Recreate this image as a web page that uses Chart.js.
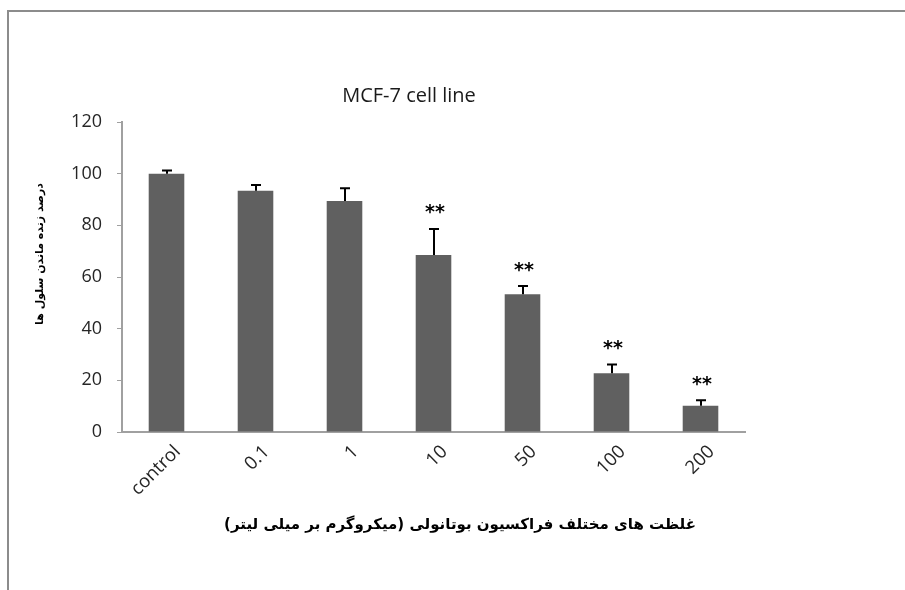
<!DOCTYPE html>
<html><head><meta charset="utf-8">
<script src="https://cdn.jsdelivr.net/npm/chart.js@4/dist/chart.umd.min.js"></script>
<style>
html,body{margin:0;padding:0;background:#fff;}
#wrap{position:relative;width:905px;height:590px;overflow:hidden;}
#frame{position:absolute;left:7px;top:10px;width:1000px;height:1000px;border-left:2px solid #8c8c8c;border-top:2px solid #8c8c8c;}
canvas{position:absolute;left:0;top:0;}
</style></head><body>
<div id="wrap"><div id="frame"></div><canvas id="c" width="905" height="590"></canvas></div>
<script>
const categories = ['control', '0.1', '1', '10', '50', '100', '200'];
const viability = [100, 93.4, 89.4, 68.5, 53.3, 22.7, 10.2];
const errorUp = [1.2, 2.2, 5.0, 10.1, 3.2, 3.4, 2.1];
const significance = ['', '', '', '**', '**', '**', '**'];
const yTicks = [0, 20, 40, 60, 80, 100, 120];
const chartTitle = 'MCF-7 cell line';
const xTitle = 'غلظت های مختلف فراکسیون بوتانولی (میکروگرم بر میلی لیتر)';
const yTitle = 'درصد زنده ماندن سلول ها';

const overlay = {
  id: 'overlay',
  afterDatasetsDraw(chart) {
    const ctx = chart.ctx;
    const meta = chart.getDatasetMeta(0);
    const ys = chart.scales.y;
    ctx.save();
    ctx.strokeStyle = '#000';
    ctx.lineWidth = 2;
    meta.data.forEach((bar, i) => {
      const x = Math.round(bar.x);
      const yTop = ys.getPixelForValue(viability[i]);
      const yErr = ys.getPixelForValue(viability[i] + errorUp[i]);
      ctx.beginPath();
      ctx.moveTo(x, yTop);
      ctx.lineTo(x, yErr);
      ctx.moveTo(x - 5, yErr);
      ctx.lineTo(x + 5, yErr);
      ctx.stroke();
      if (significance[i]) {
        ctx.font = 'bold 19px "DejaVu Sans"';
        ctx.fillStyle = '#000';
        ctx.textAlign = 'center';
        ctx.textBaseline = 'alphabetic';
        const m = ctx.measureText(significance[i]);
        const target = yErr - 19.5;
        const base = target + (m.actualBoundingBoxAscent - m.actualBoundingBoxDescent) / 2;
        ctx.fillText(significance[i], x + 1, base);
      }
    });
    ctx.restore();
  },
  afterDraw(chart) {
    const ctx = chart.ctx;
    ctx.save();
    ctx.fillStyle = '#1a1a1a';
    ctx.textAlign = 'center';
    ctx.textBaseline = 'alphabetic';
    ctx.font = '20px "Open Sans"';
    ctx.fillText(chartTitle, 409, 102);

    ctx.fillStyle = '#000';
    ctx.direction = 'rtl';
    ctx.font = 'bold 15px "DejaVu Sans"';
    ctx.textBaseline = 'middle';
    ctx.fillText(xTitle, 460, 525);

    ctx.translate(40, 254);
    ctx.rotate(-Math.PI / 2);
    ctx.font = 'bold 11px "DejaVu Sans"';
    ctx.fillText(yTitle, 0, 0);
    ctx.restore();
  }
};

new Chart(document.getElementById('c'), {
  type: 'bar',
  data: {
    labels: categories,
    datasets: [{
      data: viability,
      backgroundColor: '#606060',
      borderWidth: 0,
      barPercentage: 0.4,
      categoryPercentage: 1.0
    }]
  },
  options: {
    responsive: false,
    animation: false,
    events: [],
    layout: { padding: { top: 122, right: 160, left: 0, bottom: 0 } },
    plugins: { legend: { display: false }, tooltip: { enabled: false }, title: { display: false } },
    scales: {
      x: {
        grid: { display: false, drawTicks: false },
        border: { display: true, color: '#a0a0a0', width: 2 },
        ticks: {
          font: { family: 'Open Sans', size: 18.5 },
          color: '#262626',
          maxRotation: 45,
          minRotation: 45,
          padding: 9,
          labelOffset: 11
        },
        afterFit(s) { s.height = 158; }
      },
      y: {
        min: 0,
        max: 120,
        afterBuildTicks(s) { s.ticks = yTicks.map(v => ({ value: v })); },
        grid: { display: true, drawOnChartArea: false, drawTicks: true, tickLength: 5, color: '#a0a0a0' },
        border: { display: true, color: '#a0a0a0', width: 2 },
        ticks: {
          font: { family: 'Open Sans', size: 18 },
          color: '#262626',
          padding: 15
        },
        afterFit(s) { s.width = 122; }
      }
    }
  },
  plugins: [overlay]
});
</script>
</body></html>
